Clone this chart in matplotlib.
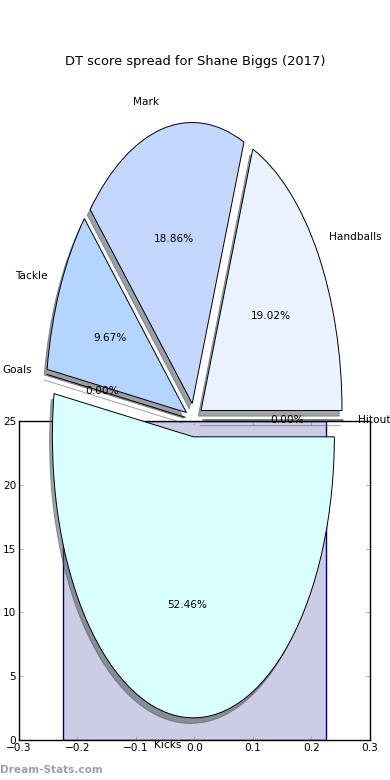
import matplotlib
matplotlib.use("Agg")
import matplotlib.pyplot as plt

# ---- data ----
labels = ['Hitout', 'Handballs', 'Mark', 'Tackle', 'Goals', 'Kicks']
values = [0.0, 19.02, 18.86, 9.67, 0.0, 52.465]
colors = ['#f0f0ff', '#ebf2ff', '#c4d8ff', '#b3d5ff', '#e0e0ff', '#d9ffff']
explode = [0.06] * 6
bar_x = [0.0]
bar_h = [25]
xticks = [-0.3, -0.2, -0.1, 0.0, 0.1, 0.2, 0.3]
yticks = [0, 5, 10, 15, 20, 25]
title = 'DT score spread for Shane Biggs (2017)'

FS = 7.6
plt.rcParams['font.family'] = ['DejaVu Sans']

fig = plt.figure(figsize=(3.9, 7.8), dpi=100)

# background axes with bar
ax = fig.add_axes([0.0487, 0.0513, 0.9, 0.409])
ax.bar(bar_x, bar_h, width=0.45, facecolor=(0, 0, 0.5, 0.2),
       edgecolor='navy', linewidth=1.0)
ax.set_xlim(-0.3, 0.3)
ax.set_ylim(0, 25)
ax.set_xticks(xticks)
ax.set_yticks(yticks)
ax.tick_params(direction='in', top=True, right=True, labelsize=FS,
               length=3, width=0.6, color='#999999', pad=2)
for s in ax.spines.values():
    s.set_linewidth(1.0)
    s.set_zorder(3)

# pie axes over whole figure
pax = fig.add_axes([0, 0, 1, 1])
pax.patch.set_visible(False)
wedges, texts, autotexts = pax.pie(
    values, labels=labels, colors=colors, explode=explode,
    autopct='%1.2f%%', startangle=0,
    shadow={'ox': -0.0144, 'oy': -0.0144},
    wedgeprops={'edgecolor': 'black', 'linewidth': 0.7},
    textprops={'fontsize': FS})
pax.set_aspect('auto')
pax.set_frame_on(False)
pax.set_xticks([])
pax.set_yticks([])
pax.set_xlim(-1.376, 1.390)
pax.set_ylim(-1.281, 1.4946)

fig.text(0.5, 1 - 61 / 780, title, ha='center', va='center', fontsize=9.4)
fig.text(0.0, 1 - 770 / 780, 'Dream-Stats.com', ha='left', va='center',
         fontsize=7.6, fontweight='bold', color='#a0a0a0')

fig.savefig('out.png', dpi=100)
